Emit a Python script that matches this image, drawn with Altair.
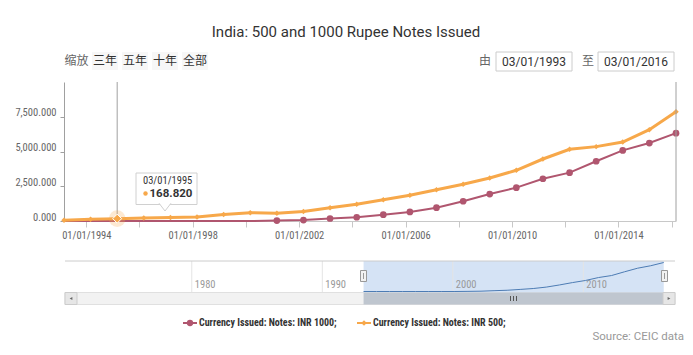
import altair as alt
import pandas as pd

# ---------------- data ----------------
dates = ["1993-03-01", "1994-03-01", "1995-03-01", "1996-03-01", "1997-03-01", "1998-03-01",
         "1999-03-01", "2000-03-01", "2001-03-01", "2002-03-01", "2003-03-01", "2004-03-01",
         "2005-03-01", "2006-03-01", "2007-03-01", "2008-03-01", "2009-03-01", "2010-03-01",
         "2011-03-01", "2012-03-01", "2013-03-01", "2014-03-01", "2015-03-01", "2016-03-01"]
inr500 = [60, 120, 168.82, 220, 250, 280, 470, 600, 550, 690, 950, 1200,
          1530, 1850, 2250, 2640, 3090, 3650, 4460, 5160, 5350, 5680, 6570, 7860]
inr1000 = [0, 0, 0, 0, 0, 0, 0, 0, 30, 70, 180, 270,
           455, 650, 960, 1420, 1940, 2400, 3040, 3480, 4300, 5080, 5610, 6320]
series_names = ["Currency Issued: Notes: INR 1000;", "Currency Issued: Notes: INR 500;"]
y_ticks = [0, 2500, 5000, 7500]
nav_dates = ["1980-01-01", "1990-01-01", "2000-01-01", "2010-01-01"]
nav_labels = ["1980", "1990", "2000", "2010"]
highlight_date = ["1995-03-01"]
highlight_value = [168.82]
range_start = ["1993-03-01"]
range_end = ["2016-03-01"]
title_text = "India: 500 and 1000 Rupee Notes Issued"
buttons = ["三年", "五年", "十年", "全部"]

ORANGE = "#f7a84a"
RED = "#b0566f"
NAVLINE = "#4d7cb4"
NARROW = "Liberation Sans Narrow, Arial Narrow, Roboto Condensed, Roboto"
ROBOTO = "Roboto"
CJK = "Noto Sans CJK SC"

W, H = 612, 139

df = pd.DataFrame({"date": dates, "inr500": inr500, "inr1000": inr1000})
hl = pd.DataFrame({"date": highlight_date, "value": highlight_value})
sel = pd.DataFrame({"start": range_start, "end": range_end})
dec = pd.DataFrame({"date": nav_dates, "label": nav_labels})
ONE = pd.DataFrame({"k": [0]})


def DT(y, m, d):
    return alt.DateTime(year=y, month=m, date=d, utc=True)


# ---------------- main plot ----------------
x_scale = alt.Scale(type="utc", domain=[DT(1993, 3, 1), DT(2016, 3, 1)])
x_axis = alt.Axis(
    values=[DT(y, 1, 1) for y in [1994, 1996, 1998, 2000, 2002, 2004, 2006, 2008, 2010, 2012, 2014, 2016]],
    labelExpr="utcyear(datum.value) % 4 == 2 ? utcFormat(datum.value, '%m/%d/%Y') : ''",
    grid=False, domainColor="#c8c8c8", tickColor="#c8c8c8", tickSize=6,
    labelColor="#666666", labelFont=NARROW, labelFontSize=10.5, labelPadding=3,
    labelFlush=False, labelOverlap=False, title=None)
y_scale = alt.Scale(domain=[0, 10000], nice=False)
y_axis = alt.Axis(values=y_ticks, format=",.3f", grid=False, domainColor="#a0a0a0",
                  tickColor="#a0a0a0", tickSize=4, labelColor="#666666", labelFont=NARROW,
                  labelFontSize=10.5, labelPadding=4, labelOffset=-4, title=None)

X = alt.X("date:T", scale=x_scale, axis=x_axis, title=None)

red_line = alt.Chart(df).mark_line(color=RED, strokeWidth=2).encode(
    x=X, y=alt.Y("inr1000:Q", scale=y_scale, axis=y_axis, title=None))
red_pts = alt.Chart(df).transform_filter("datum.inr1000 > 0").mark_point(
    filled=True, shape="circle", size=45, color=RED, opacity=1).encode(
    x=X, y=alt.Y("inr1000:Q", scale=y_scale, axis=y_axis, title=None))
org_line = alt.Chart(df).mark_line(color=ORANGE, strokeWidth=3).encode(
    x=X, y=alt.Y("inr500:Q", scale=y_scale, axis=y_axis, title=None))
org_pts = alt.Chart(df).mark_point(
    filled=True, shape="diamond", size=30, color=ORANGE, opacity=1).encode(
    x=X, y=alt.Y("inr500:Q", scale=y_scale, axis=y_axis, title=None))
cross = alt.Chart(hl).mark_rule(color="#a0a0a0", strokeWidth=1).encode(
    x=X, y=alt.value(0), y2=alt.value(H))
halo = alt.Chart(hl).mark_point(filled=True, shape="circle", size=280, color=ORANGE, opacity=0.25).encode(
    x=X, y=alt.Y("value:Q", scale=y_scale, axis=y_axis, title=None))
hl_pt = alt.Chart(hl).mark_point(filled=True, shape="diamond", size=80, color=ORANGE, opacity=1,
                                 stroke="white", strokeWidth=1).encode(
    x=X, y=alt.Y("value:Q", scale=y_scale, axis=y_axis, title=None))

main = alt.layer(red_line, org_line, red_pts, org_pts, cross, halo, hl_pt)

# ---------------- navigator ----------------
nav_scale = alt.Scale(type="utc", domain=[DT(1970, 4, 15), DT(2017, 1, 10)], range=[1, 611])
NX = alt.X("date:T", scale=nav_scale, axis=None, title=None)
NS = alt.X("start:T", scale=nav_scale, axis=None, title=None)

track = alt.Chart(ONE).mark_rect(fill="#f2f2f2", stroke="#e0e0e0", strokeWidth=1).encode(
    x=alt.value(1), x2=alt.value(611), y=alt.value(210.5), y2=alt.value(222.5))
shade = alt.Chart(sel).mark_rect(fill="#d5e3f5").encode(
    x=NS, x2="end:T", y=alt.value(179), y2=alt.value(210.5))
thumb = alt.Chart(sel).mark_rect(fill="#bfc6cf").encode(
    x=NS, x2="end:T", y=alt.value(210.5), y2=alt.value(222.5))
grid = alt.Chart(dec).mark_rule(color="#e4e4e4", strokeWidth=1).encode(
    x=NX, y=alt.value(179), y2=alt.value(210))
labels = alt.Chart(dec).mark_text(align="left", dx=3, baseline="middle", color="#999999",
                                  font=NARROW, fontSize=10.5).encode(
    x=NX, y=alt.value(203), text="label:N")
nav_line = alt.Chart(df).mark_line(color=NAVLINE, strokeWidth=1).encode(
    x=NX, y=alt.Y("inr1000:Q", scale=alt.Scale(domain=[0, 6320], range=[209.5, 180.5], nice=False),
                  axis=None, title=None))

nav = alt.layer(track, shade, thumb, grid, labels, nav_line)


# ---------------- decorations ----------------
def txt(s, x, y, size=12, color="#333333", font=ROBOTO, weight="normal", align="center"):
    return alt.Chart(ONE).mark_text(text=s, fontSize=size, color=color, font=font,
                                    fontWeight=weight, align=align, baseline="middle").encode(
        x=alt.value(x), y=alt.value(y))


def box(x1, x2, y1, y2, fill, stroke=None, sw=1):
    kw = dict(fill=fill)
    if stroke:
        kw.update(stroke=stroke, strokeWidth=sw)
    return alt.Chart(ONE).mark_rect(**kw).encode(
        x=alt.value(x1), x2=alt.value(x2), y=alt.value(y1), y2=alt.value(y2))


def hline(x1, x2, y, color, sw=1):
    return alt.Chart(ONE).mark_rule(color=color, strokeWidth=sw).encode(
        x=alt.value(x1), x2=alt.value(x2), y=alt.value(y))


def vline(x, y1, y2, color, sw=1):
    return alt.Chart(ONE).mark_rule(color=color, strokeWidth=sw).encode(
        x=alt.value(x), y=alt.value(y1), y2=alt.value(y2))


def sym(x, y, shape, size, color, stroke=None):
    kw = dict(filled=True, shape=shape, size=size, color=color, opacity=1)
    if stroke:
        kw.update(stroke=stroke, strokeWidth=1)
    return alt.Chart(ONE).mark_point(**kw).encode(x=alt.value(x), y=alt.value(y))


deco = []
# title
deco.append(txt(title_text, 282, -50, size=15, color="#333333"))
# range selector
deco.append(txt("缩放", 12.5, -21, size=12, color="#666666", font=CJK))
for i, b in enumerate(buttons):
    cx = 41 + 30 * i
    deco.append(box(cx - 13, cx + 13, -30, -12, "#f7f7f7"))
    deco.append(txt(b, cx, -21, size=12, color="#333333", font=CJK))
# date inputs
deco.append(txt("由", 421, -21, size=12, color="#666666", font=CJK))
deco.append(box(432, 508, -30, -11, "white", "#cccccc"))
deco.append(txt(range_start[0][5:7] + "/" + range_start[0][8:10] + "/" + range_start[0][:4],
                470, -20.5, size=12, color="#333333"))
deco.append(txt("至", 524, -21, size=12, color="#666666", font=CJK))
deco.append(box(534, 610, -30, -11, "white", "#cccccc"))
deco.append(txt(range_end[0][5:7] + "/" + range_end[0][8:10] + "/" + range_end[0][:4],
                572, -20.5, size=12, color="#333333"))
# right border of plot
deco.append(vline(612, 0, H, "#a0a0a0"))
# tooltip
deco.append(box(72, 133, 91, 122.5, "white", "#d0d0d0"))
deco.append(alt.Chart(ONE).mark_point(filled=True, shape="M-1,-1.3L0,0L1,-1.3", size=144,
                                      fill="white", stroke="#d0d0d0", strokeWidth=1, opacity=1).encode(
    x=alt.value(101), y=alt.value(129)))
deco.append(txt("03/01/1995", 79, 98.5, size=10.5, color="#333333", font=NARROW, align="left"))
deco.append(sym(81.5, 111.5, "circle", 20, ORANGE))
deco.append(txt(f"{highlight_value[0]:.3f}", 85.5, 111.5, size=11.5, color="#333333", weight="bold", align="left"))
# navigator chrome
deco.append(hline(1, 611, 179, "#cccccc"))
deco.append(box(1, 13, 210.5, 222.5, "#e6e6e6", "#cccccc"))
deco.append(box(599, 611, 210.5, 222.5, "#e6e6e6", "#cccccc"))
deco.append(sym(7, 216.5, "triangle-left", 10, "#666666"))
deco.append(sym(605, 216.5, "triangle-right", 10, "#666666"))
for gx in [446.5, 449.5, 452.5]:
    deco.append(vline(gx, 214, 219, "#555555"))
for hx in [299.5, 600.5]:
    deco.append(box(hx - 3, hx + 3, 188.5, 199.5, "#f2f2f2", "#999999"))
    deco.append(vline(hx, 191, 197, "#999999"))
# legend
deco.append(hline(119, 133, 241, RED, 2))
deco.append(sym(126, 241, "circle", 40, RED))
deco.append(txt(series_names[0], 135, 241, size=10, color="#333333", font=NARROW, weight="bold", align="left"))
deco.append(hline(293, 307, 241, ORANGE, 2))
deco.append(sym(300, 241, "diamond", 30, ORANGE))
deco.append(txt(series_names[1], 309, 241, size=10, color="#333333", font=NARROW, weight="bold", align="left"))
# source
deco.append(txt("Source: CEIC data", 620, 254.5, size=11.5, color="#999999", align="right"))

chart = alt.layer(main, nav, *deco).resolve_scale(x="independent", y="independent").properties(
    width=W, height=H,
    padding={"left": 56, "top": 74, "right": 9, "bottom": 122},
    autosize=alt.AutoSizeParams(type="none"),
    background="white",
).configure_view(stroke=None)

chart.save("out.html", embed_options={"renderer": "svg", "actions": False})
